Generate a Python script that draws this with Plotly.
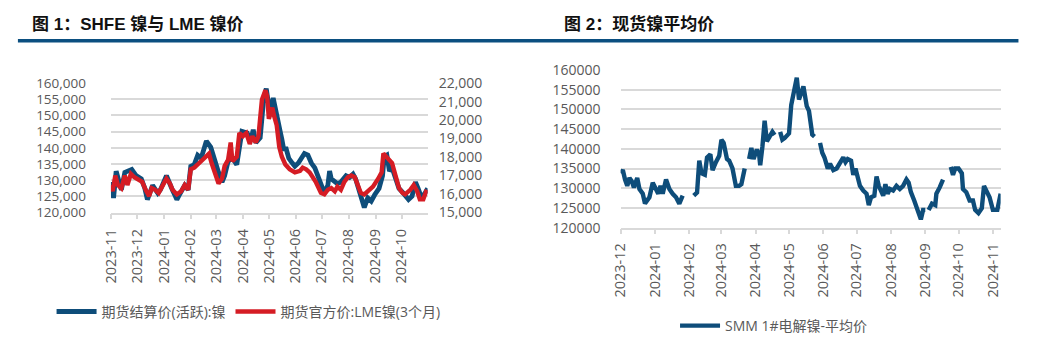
import plotly.graph_objects as go

# ---------------- data ----------------
shfe_dates = ["2023-11-01","2023-11-04","2023-11-07","2023-11-13","2023-11-17","2023-11-25","2023-11-30",
              "2023-12-06","2023-12-10","2023-12-13","2023-12-19","2023-12-25","2023-12-28",
              "2024-01-04","2024-01-10","2024-01-16","2024-01-19","2024-01-25","2024-01-29",
              "2024-02-01","2024-02-05","2024-02-09","2024-02-13","2024-02-19","2024-02-24","2024-02-29",
              "2024-03-04","2024-03-08","2024-03-11","2024-03-15","2024-03-20","2024-03-25","2024-03-28","2024-03-31",
              "2024-04-06","2024-04-10","2024-04-13","2024-04-16","2024-04-21","2024-04-25","2024-04-28",
              "2024-05-02","2024-05-06","2024-05-10","2024-05-12","2024-05-14","2024-05-16","2024-05-18","2024-05-21",
              "2024-05-24","2024-05-28","2024-05-31","2024-06-04","2024-06-08","2024-06-11","2024-06-15","2024-06-19",
              "2024-06-23","2024-06-26","2024-06-30","2024-07-04","2024-07-08","2024-07-10","2024-07-12","2024-07-16",
              "2024-07-19","2024-07-23","2024-07-29","2024-08-02","2024-08-06","2024-08-09","2024-08-12","2024-08-15",
              "2024-08-19","2024-08-23","2024-08-27","2024-08-31","2024-09-05","2024-09-09","2024-09-11","2024-09-14",
              "2024-09-17","2024-09-20","2024-09-24","2024-09-28","2024-10-03","2024-10-09","2024-10-13","2024-10-17",
              "2024-10-20","2024-10-24","2024-10-28","2024-10-31"]
shfe_values = [129400,124500,132800,127000,132400,133300,131400,
               130400,127500,124000,128400,126000,127000,
               131400,127500,124000,125500,128400,127000,
               134300,134800,137700,136800,142100,140200,135300,
               132400,129400,131400,135800,136800,134800,140700,145100,
               144600,142100,145600,141600,143100,154900,158300,
               151000,155400,151000,148000,145100,142650,139700,139700,
               136760,135290,134300,135290,136760,138240,137750,135290,
               133820,131370,128920,125980,128430,132840,130390,129410,
               128920,129410,131370,130880,131860,130390,127450,124510,
               121570,124510,123530,125490,127450,131370,137250,137750,
               132840,133820,130390,127450,125980,124020,125000,129410,
               127450,124510,125980,127450]

lme_dates = ["2023-11-01","2023-11-03","2023-11-06","2023-11-09","2023-11-13","2023-11-17","2023-11-20",
             "2023-11-24","2023-11-28","2023-12-04","2023-12-07","2023-12-11","2023-12-15","2023-12-18",
             "2023-12-22","2023-12-26","2023-12-30","2024-01-04","2024-01-08","2024-01-11","2024-01-16",
             "2024-01-21","2024-01-25","2024-01-29","2024-02-01","2024-02-05","2024-02-09","2024-02-13",
             "2024-02-18","2024-02-22","2024-02-25","2024-02-29","2024-03-04","2024-03-08","2024-03-11",
             "2024-03-15","2024-03-18","2024-03-20","2024-03-25","2024-03-28","2024-04-01","2024-04-05",
             "2024-04-09","2024-04-12","2024-04-16","2024-04-19","2024-04-23","2024-04-27","2024-04-29",
             "2024-05-01","2024-05-05","2024-05-07","2024-05-10","2024-05-13","2024-05-16","2024-05-20",
             "2024-05-25","2024-05-31","2024-06-06","2024-06-09","2024-06-13","2024-06-17","2024-06-21",
             "2024-06-24","2024-06-30","2024-07-04","2024-07-08","2024-07-12","2024-07-16","2024-07-19",
             "2024-07-23","2024-07-27","2024-07-31","2024-08-04","2024-08-08","2024-08-11","2024-08-15",
             "2024-08-19","2024-08-23","2024-08-29","2024-09-04","2024-09-08","2024-09-10","2024-09-13",
             "2024-09-17","2024-09-20","2024-09-24","2024-09-28","2024-10-02","2024-10-05","2024-10-11",
             "2024-10-15","2024-10-19","2024-10-22","2024-10-26","2024-10-30"]
lme_values = [16490,16150,17000,16490,16320,17000,16490,
              17090,16910,16740,16660,16230,15890,16320,
              16230,16060,16400,16830,16570,16230,15980,
              16150,16490,16230,17340,17430,17600,17770,
              18020,18190,17680,17170,16570,16830,17510,
              17850,18790,17770,18020,19300,19130,19300,
              18710,19130,18790,19130,21100,21610,21300,
              20070,20670,20240,19730,18540,18020,17600,
              17340,17170,17260,17430,17340,17170,16910,
              16660,16060,15980,16230,16320,16150,16400,
              16230,16660,16910,17000,16910,16490,16060,
              15980,16150,16400,16830,17170,18190,18020,
              17770,17680,17000,16320,16060,15980,16230,
              16490,16150,15720,15720,16230]

smm_dates = ["2023-12-01","2023-12-03","2023-12-05","2023-12-07","2023-12-09","2023-12-11","2023-12-13",
             "2023-12-16","2023-12-18","2023-12-21","2023-12-23","2023-12-25","2023-12-27","2023-12-30",
             "2024-01-02","2024-01-04","2024-01-06","2024-01-08","2024-01-11","2024-01-14","2024-01-17",
             "2024-01-20","2024-01-23","2024-01-26","2024-01-31","2024-02-05","2024-02-08","2024-02-10",
             "2024-02-12","2024-02-15","2024-02-17","2024-02-20","2024-02-22","2024-02-25","2024-02-28",
             "2024-03-01","2024-03-03","2024-03-06","2024-03-08","2024-03-11","2024-03-14","2024-03-17",
             "2024-03-19","2024-03-22","2024-03-24","2024-03-26","2024-03-28","2024-03-30","2024-04-02",
             "2024-04-04","2024-04-05","2024-04-07","2024-04-09","2024-04-11","2024-04-14","2024-04-16",
             "2024-04-18","2024-04-20","2024-04-23","2024-04-25","2024-04-27","2024-05-01","2024-05-03",
             "2024-05-06","2024-05-08","2024-05-10","2024-05-14","2024-05-17","2024-05-19","2024-05-22",
             "2024-05-24","2024-05-26","2024-05-29","2024-05-31","2024-06-02","2024-06-05","2024-06-07",
             "2024-06-10","2024-06-13","2024-06-16","2024-06-19","2024-06-21","2024-06-23","2024-06-26",
             "2024-06-28","2024-06-30","2024-07-02","2024-07-04","2024-07-07","2024-07-10","2024-07-12",
             "2024-07-14","2024-07-17","2024-07-19","2024-07-21","2024-07-23","2024-07-25","2024-07-27",
             "2024-07-29","2024-07-31","2024-08-03","2024-08-06","2024-08-09","2024-08-12","2024-08-15",
             "2024-08-17","2024-08-19","2024-08-22","2024-08-24","2024-08-26","2024-08-28","2024-08-30",
             "2024-09-01","2024-09-02","2024-09-04","2024-09-07","2024-09-10","2024-09-11","2024-09-14",
             "2024-09-17","2024-09-20","2024-09-24","2024-09-26","2024-09-28","2024-10-01","2024-10-04",
             "2024-10-05","2024-10-08","2024-10-11","2024-10-14","2024-10-16","2024-10-19","2024-10-22",
             "2024-10-24","2024-10-27","2024-10-29","2024-11-01","2024-11-05","2024-11-08"]
smm_values = [133800,134600,132200,130600,132600,131800,130200,
              132600,129800,128600,126100,126900,127700,131400,
              129800,128600,130600,128600,132200,129800,128600,
              127700,126100,128100,None,128100,128900,137000,
              133800,133400,137800,138600,134600,136600,138200,
              142300,141500,137400,137000,135000,130600,130600,
              131000,135000,None,137400,140200,137400,139800,
              138600,135800,140600,147100,141900,143500,144300,
              143500,None,144300,142300,142700,143900,151100,
              156000,158000,152500,155800,150800,149600,143600,
              143100,None,141500,139000,137800,135000,136200,
              134600,135000,136200,137800,136600,137400,137000,
              133400,135000,132600,130600,129400,128600,125700,
              127700,128100,133000,130600,129000,128100,131000,
              128600,129800,129400,130600,129800,130600,132200,
              131400,129000,126900,125300,123700,122100,124500,
              124500,None,124500,126100,125700,128600,130200,
              132200,None,135400,133400,135000,135000,133800,
              129800,129000,126900,126900,124500,123700,124900,
              130600,129000,127700,124500,124500,128600]

left_title = "图 1：SHFE 镍与 LME 镍价"
right_title = "图 2：现货镍平均价"
shfe_name = "期货结算价(活跃):镍"
lme_name = "期货官方价:LME镍(3个月)"
smm_name = "SMM 1#电解镍-平均价"

# ---------------- style ----------------
BLUE = "#0e4d7a"
RED = "#d51c24"
RULE = "#0b4f80"
GRID = "#d9d9d9"
TXT = "#595959"
FONT = "Open Sans, Noto Sans CJK SC, sans-serif"
W, H = 1062, 354

def px_x(p):
    return p / W

def px_y(p):
    return 1 - p / H

fig = go.Figure()

fig.add_trace(go.Scatter(x=shfe_dates, y=shfe_values, name=shfe_name, mode="lines",
                         line=dict(color=BLUE, width=4.8), xaxis="x", yaxis="y", legend="legend"))
fig.add_trace(go.Scatter(x=lme_dates, y=lme_values, name=lme_name, mode="lines",
                         line=dict(color=RED, width=4.4), xaxis="x", yaxis="y2", legend="legend"))
fig.add_trace(go.Scatter(x=smm_dates, y=smm_values, name=smm_name, mode="lines",
                         line=dict(color=BLUE, width=4.4), connectgaps=False,
                         xaxis="x2", yaxis="y3", legend="legend2"))

lefttickfont = dict(family=FONT, size=13.5, color=TXT)
ytickfont = dict(family=FONT, size=14, color=TXT)
xtickfont = dict(family=FONT, size=14.5, color=TXT)

fig.update_layout(
    width=W, height=H,
    margin=dict(l=0, r=0, t=0, b=0),
    paper_bgcolor="white", plot_bgcolor="white",
    font=dict(family=FONT, size=14, color=TXT),
    xaxis=dict(domain=[px_x(102), px_x(422)], type="date",
               range=["2023-11-01", "2024-10-31"],
               tick0="2023-11-01", dtick="M1", tickformat="%Y-%m", tickangle=-90,
               ticks="outside", ticklen=5, tickcolor=GRID, tickwidth=1.5,
               showline=True, linecolor=GRID, linewidth=1.5, showgrid=False,
               tickfont=xtickfont, anchor="y", zeroline=False, ticklabelstandoff=4),
    yaxis=dict(domain=[px_y(214), px_y(77.3)], range=[120000, 160000], dtick=5000,
               tickformat=",d", showgrid=True, gridcolor=GRID, gridwidth=1.5,
               showline=False, zeroline=False, tickfont=lefttickfont, anchor="x", ticks="",
               ticklabelstandoff=24),
    yaxis2=dict(overlaying="y", side="right", range=[15000, 22000], dtick=1000,
                tickformat=",d", showgrid=False, showline=False, zeroline=False,
                tickfont=ytickfont, anchor="x", ticklabelstandoff=10),
    xaxis2=dict(domain=[px_x(617), px_x(1001)], type="date",
                range=["2023-12-01", "2024-11-08"],
                tick0="2023-12-01", dtick="M1", tickformat="%Y-%m", tickangle=-90,
                ticks="outside", ticklen=5, tickcolor=GRID, tickwidth=1.5,
                showline=True, linecolor=GRID, linewidth=1.5, showgrid=False,
                tickfont=xtickfont, anchor="y3", zeroline=False, ticklabelstandoff=3),
    yaxis3=dict(domain=[px_y(230), px_y(63.3)], range=[120000, 160000], dtick=5000,
                tickformat="d", showgrid=True, gridcolor=GRID, gridwidth=1.5,
                showline=False, zeroline=False, tickfont=ytickfont, anchor="x2",
                ticklabelstandoff=19),
    legend=dict(orientation="h", x=px_x(42), y=px_y(319), xanchor="left", yanchor="middle",
                font=dict(family=FONT, size=14, color=TXT), bgcolor="rgba(0,0,0,0)",
                itemwidth=40, tracegroupgap=0),
    legend2=dict(orientation="h", x=px_x(672), y=px_y(334), xanchor="left", yanchor="middle",
                 font=dict(family=FONT, size=14, color=TXT), bgcolor="rgba(0,0,0,0)",
                 itemwidth=40),
    showlegend=True,
)

title_font = dict(family="Liberation Sans, Noto Sans CJK SC, sans-serif", size=17, color="#111111", weight="bold")
fig.add_annotation(text=left_title, x=px_x(20), y=px_y(15), xref="paper", yref="paper",
                   xanchor="left", yanchor="middle", showarrow=False, font=title_font)
fig.add_annotation(text=right_title, x=px_x(558), y=px_y(15), xref="paper", yref="paper",
                   xanchor="left", yanchor="middle", showarrow=False, font=title_font)
fig.add_shape(type="line", xref="paper", yref="paper", x0=px_x(8), x1=px_x(1019),
              y0=px_y(32.5), y1=px_y(32.5), line=dict(color=RULE, width=3.5))

fig.write_html("out.html")
